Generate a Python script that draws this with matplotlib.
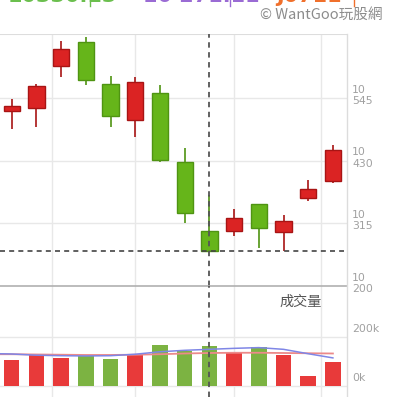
import numpy as np
import matplotlib
matplotlib.use("Agg")
import matplotlib.pyplot as plt
from matplotlib.lines import Line2D

# candle data (index / price), red = up, green = down
opens = [10521, 10527, 10605, 10648, 10572, 10505, 10554, 10428, 10301, 10301, 10350, 10300, 10361, 10392]
highs = [10544, 10571, 10650, 10657, 10585, 10584, 10569, 10454, 10367, 10342, 10351, 10330, 10395, 10459]
lows = [10488, 10492, 10584, 10569, 10492, 10474, 10428, 10316, 10265, 10292, 10269, 10265, 10357, 10389]
closes = [10530, 10567, 10635, 10579, 10513, 10574, 10432, 10334, 10265, 10325, 10306, 10319, 10379, 10450]

# volume (thousands)
volumes = [105, 130, 114, 124, 110, 130, 166, 142, 162, 133, 158, 126, 41, 97]
# moving averages of volume, first value is the previous day
ma_fast = [133, 131, 126, 124, 123, 124, 130, 140, 146, 150, 154, 157, 150, 132, 115]
ma_slow = [130, 130, 129, 128, 127, 127, 128, 130, 133, 135, 136, 136, 135, 134, 133]

price_ticks = [10200, 10315, 10430, 10545]
vol_ticks = [0, 200]
grid_x = [1.63, 5, 9, 12.5]
cross_idx = 8
cross_price = 10265

RED = "#db2323"
RED_EDGE = "#a81414"
GREEN = "#66b51a"
GREEN_EDGE = "#4f9412"
VRED = "#e83a3a"
VGREEN = "#7cb342"
LABEL = "#a0a0a0"
GRID = "#e8e8e8"

fig = plt.figure(figsize=(3.96, 3.97), dpi=100)
W, H = 396, 397
x0, x1 = -0.474, 13.57

ax = fig.add_axes([0, 1 - 286 / H, 347 / W, 252 / H])
axv = fig.add_axes([0, 0, 347 / W, 111 / H])

idx = np.arange(len(opens))
o = np.array(opens)
c = np.array(closes)
up = c >= o

# price panel
for a in (ax, axv):
    for gx in grid_x:
        a.axvline(gx, color=GRID, lw=1, zorder=0)
    a.set_xlim(x0, x1)
    a.set_xticks([])
    a.set_yticks([])
    for s in a.spines.values():
        s.set_visible(False)

for py in price_ticks[1:]:
    ax.axhline(py, color=GRID, lw=1, zorder=0)
ax.axhline(10663, color="#dddddd", lw=1.5, zorder=0)

wick_col = [RED_EDGE if u else GREEN_EDGE for u in up]
ax.vlines(idx, lows, highs, colors=wick_col, lw=1.2, zorder=2)
ax.bar(idx, np.abs(c - o), bottom=np.minimum(o, c), width=0.66,
       color=[RED if u else GREEN for u in up], edgecolor=wick_col, lw=1, zorder=3)
ax.set_ylim(10200, 10663)

# crosshair
ax.axvline(cross_idx, color="#555555", lw=1.3, ls=(0, (3, 2.5)), zorder=5)
ax.plot([x0, 13.45], [cross_price, cross_price], color="#444444", lw=1.2,
        ls=(0, (3, 2.5)), zorder=5)

for py in price_ticks:
    ax.text(1.015, py + 5, "10\n" + str(py)[2:], transform=ax.get_yaxis_transform(),
            ha="left", va="center", fontsize=7.8, color=LABEL, linespacing=1.15,
            clip_on=False)

# volume panel
vol_lo, vol_hi = -44.6, 408.5
axv.axhline(200, color=GRID, lw=1, zorder=0)
axv.axhline(0, color=GRID, lw=1, zorder=0)
axv.axhline(vol_hi, color="#b0b0b0", lw=1.2, zorder=1, clip_on=False)
axv.bar(idx, volumes, width=0.63, color=[VRED if u else VGREEN for u in up], zorder=2)
ma_x = np.arange(-1, len(opens))
axv.plot(ma_x, ma_slow, color="#ec8a8a", lw=1.3, zorder=3)
axv.plot(ma_x, ma_fast, color="#7f86e6", lw=1.1, zorder=3)
axv.axvline(cross_idx, color="#555555", lw=1.3, ls=(0, (3, 2.5)), zorder=5)
axv.set_ylim(vol_lo, vol_hi)
for v in vol_ticks:
    axv.text(1.015, v + 33, f"{v}k", transform=axv.get_yaxis_transform(),
             ha="left", va="center", fontsize=7.8, color=LABEL, clip_on=False)
axv.text(11.7, 346, "成交量", ha="center", va="center", fontsize=10.2,
         color="#555555", family=["Noto Sans CJK TC", "DejaVu Sans"])

# right border of the chart
fig.add_artist(Line2D([347 / W, 347 / W], [0, 1 - 34 / H], color="#dcdcdc", lw=1))

# header (cut off at the top)
fig.text(8 / W, 1 - 1.5 / H, "10330.13", color="#6bbf4e", fontsize=15, weight="bold",
         va="baseline", ha="left")
fig.add_artist(Line2D([90 / W, 90 / W], [1 - 6 / H, 1], color="#6bbf4e", lw=1))
fig.text(143 / W, 1 - 1.5 / H, "10 271.11", color="#9a6bd4", fontsize=15, weight="bold",
         va="baseline", ha="left")
fig.add_artist(Line2D([230 / W, 230 / W], [1 - 6 / H, 1], color="#9a6bd4", lw=1))
fig.text(276 / W, 1 - 1.5 / H, "J0711", color="#f0702c", fontsize=15, weight="bold",
         va="baseline", ha="left")
fig.add_artist(Line2D([354 / W, 354 / W], [1 - 6 / H, 1], color="#f0702c", lw=1))

fig.text(260 / W, 1 - 15 / H, "© WantGoo玩股網", color="#8c8c8c", fontsize=10.5,
         va="center", ha="left", family=["Noto Sans CJK TC", "DejaVu Sans"])

fig.savefig("out.png", dpi=100)
